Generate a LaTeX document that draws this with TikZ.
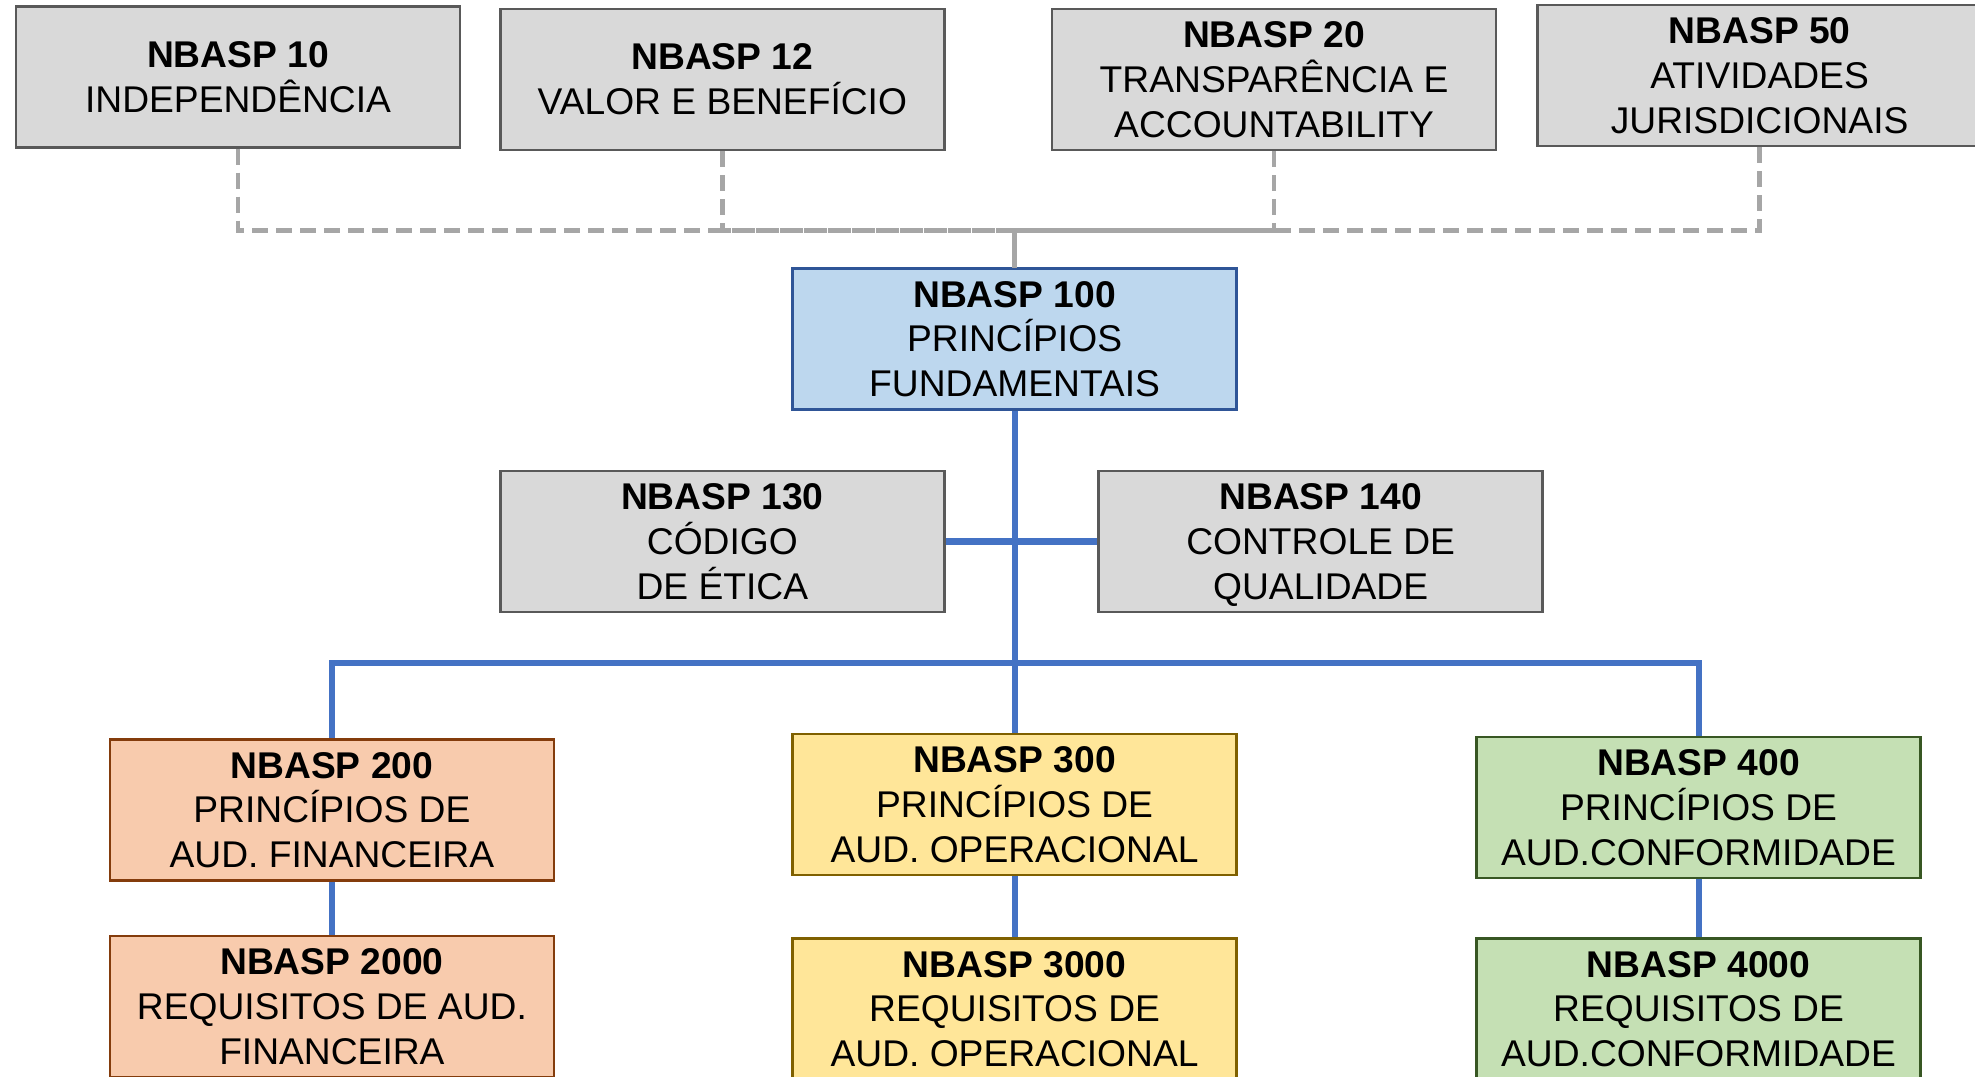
\documentclass[tikz,border=0pt]{standalone}
\usepackage{fontspec}
\setmainfont{Liberation Sans}
\definecolor{graybox}{HTML}{D9D9D9}
\definecolor{grayline}{HTML}{595959}
\definecolor{bluebox}{HTML}{BDD7EE}
\definecolor{blueborder}{HTML}{2F5597}
\definecolor{orangebox}{HTML}{F8CBAD}
\definecolor{orangeborder}{HTML}{843C0C}
\definecolor{yellowbox}{HTML}{FFE699}
\definecolor{yellowborder}{HTML}{7F6000}
\definecolor{greenbox}{HTML}{C5E0B4}
\definecolor{greenborder}{HTML}{385723}
\definecolor{conblue}{HTML}{4472C4}
\definecolor{dashgray}{HTML}{A6A6A6}
\tikzset{
  box/.style={draw, line width=1.2pt, minimum width=222pt, minimum height=70.5pt,
    align=center, inner sep=0pt, text depth=0pt, font=\fontsize{18.6}{22.4}\selectfont},
  grbox/.style={box, fill=graybox, draw=grayline},
  blbox/.style={box, fill=bluebox, draw=blueborder},
  orbox/.style={box, fill=orangebox, draw=orangeborder},
  yebox/.style={box, fill=yellowbox, draw=yellowborder},
  gnbox/.style={box, fill=greenbox, draw=greenborder},
  dashline/.style={draw=dashgray, line width=2.4pt, dash pattern=on 8pt off 4pt},
  blueline/.style={draw=conblue, line width=3pt}
}
\begin{document}
\begin{tikzpicture}[x=0.6298pt, y=-0.6298pt]
\useasboundingbox (0,0) rectangle (1568,855);
\clip (0,0) rectangle (1568,855);
% top row
\node[grbox] (n10) at (189,61) {\textbf{NBASP 10}\\INDEPENDÊNCIA};
\node[grbox] (n12) at (573.5,63) {\textbf{NBASP 12}\\VALOR E BENEFÍCIO};
\node[grbox] (n20) at (1011.5,63) {\textbf{NBASP 20}\\TRANSPARÊNCIA E\\ACCOUNTABILITY};
\node[grbox] (n50) at (1397,60) {\textbf{NBASP 50}\\ATIVIDADES\\JURISDICIONAIS};
% center
\node[blbox] (n100) at (805.5,269) {\textbf{NBASP 100}\\PRINCÍPIOS\\FUNDAMENTAIS};
\node[grbox] (n130) at (573.5,430) {\textbf{NBASP 130}\\CÓDIGO\\DE ÉTICA};
\node[grbox] (n140) at (1048.5,430) {\textbf{NBASP 140}\\CONTROLE DE\\QUALIDADE};
% lower
\node[orbox] (n200) at (263.5,643) {\textbf{NBASP 200}\\PRINCÍPIOS DE\\AUD. FINANCEIRA};
\node[orbox] (n2000) at (263.5,799) {\textbf{NBASP 2000}\\REQUISITOS DE AUD.\\FINANCEIRA};
\node[yebox] (n300) at (805.5,638.5) {\textbf{NBASP 300}\\PRINCÍPIOS DE\\AUD. OPERACIONAL};
\node[yebox] (n3000) at (805.5,801) {\textbf{NBASP 3000}\\REQUISITOS DE\\AUD. OPERACIONAL};
\node[gnbox] (n400) at (1348.5,641) {\textbf{NBASP 400}\\PRINCÍPIOS DE\\AUD.CONFORMIDADE};
\node[gnbox] (n4000) at (1348.5,801) {\textbf{NBASP 4000}\\REQUISITOS DE\\AUD.CONFORMIDADE};
% junctions
\coordinate (jt) at (805.5,183);
\coordinate (jb) at (805.5,526);
% dashed connectors
\draw[dashline] (n10.south) |- (jt) -- (n100.north);
\draw[dashline] (n12.south) |- (jt) -- (n100.north);
\draw[dashline] (n20.south) |- (jt) -- (n100.north);
\draw[dashline] (n50.south) |- (jt) -- (n100.north);
% blue connectors
\draw[blueline] (n100.south) -- (n300.north);
\draw[blueline, line width=3.6pt] (n130.east) -- (n140.west);
\draw[blueline] (jb) -| (n200.north);
\draw[blueline] (jb) -| (n400.north);
\draw[blueline] (n200.south) -- (n2000.north);
\draw[blueline] (n300.south) -- (n3000.north);
\draw[blueline] (n400.south) -- (n4000.north);
\end{tikzpicture}
\end{document}
